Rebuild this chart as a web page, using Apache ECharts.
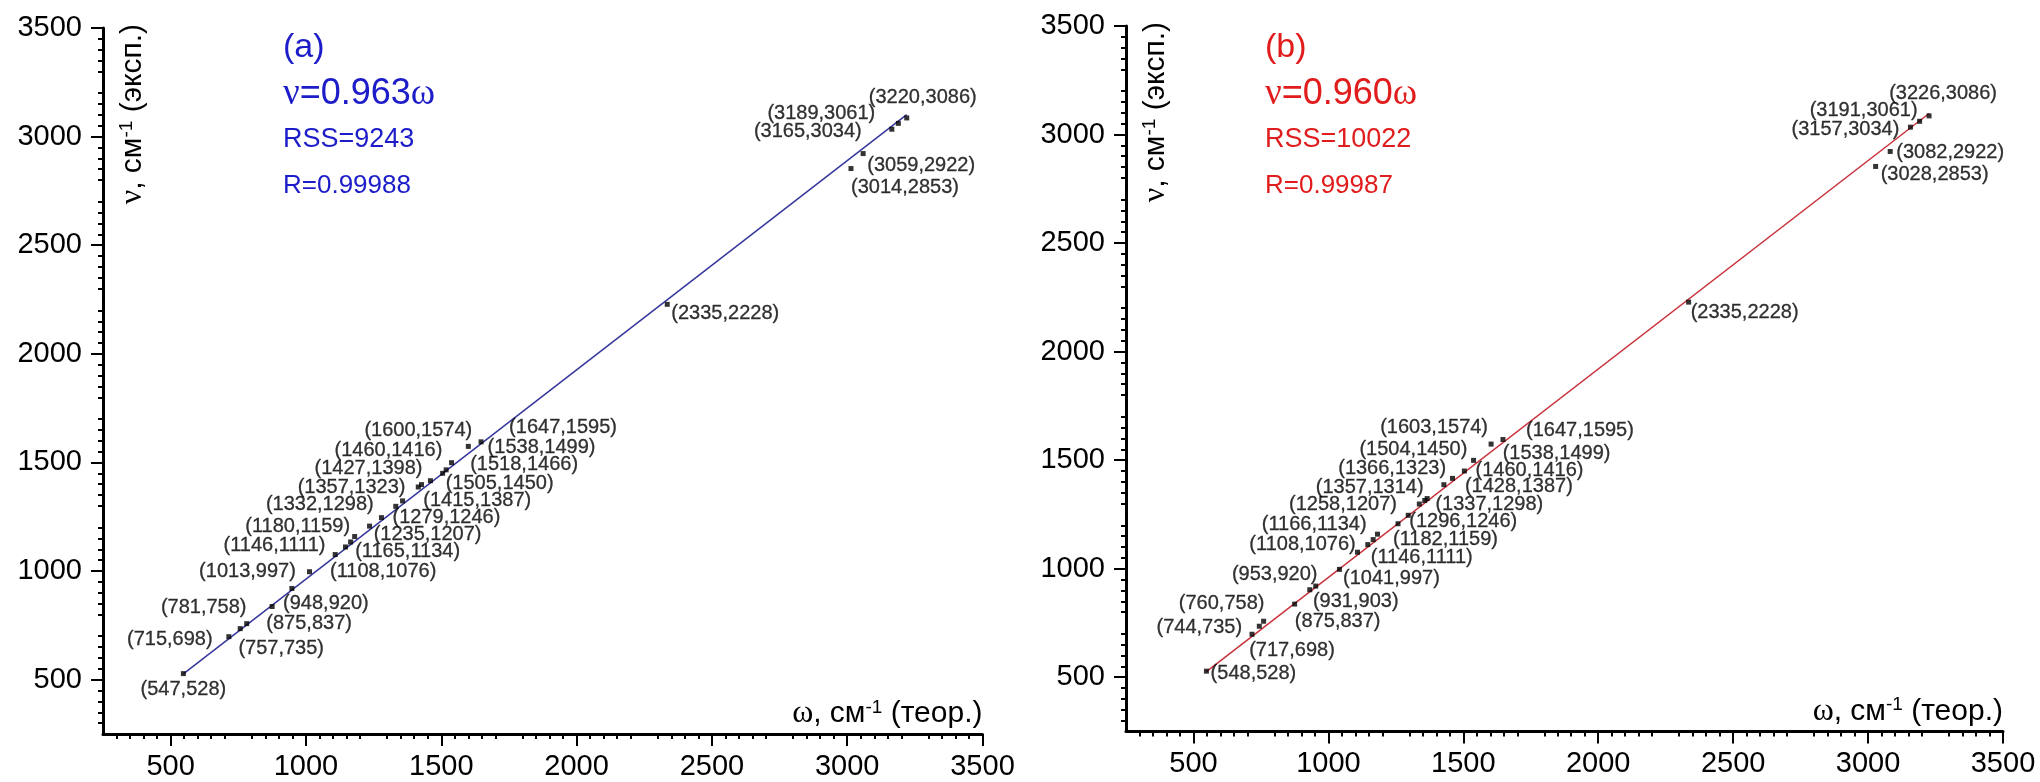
<!DOCTYPE html>
<html>
<head>
<meta charset="utf-8">
<script src="https://cdn.jsdelivr.net/npm/echarts@6/dist/echarts.min.js"></script>
<style>
html,body{margin:0;padding:0;background:#fff;}
#chart{width:2040px;height:782px;}
</style>
</head>
<body>
<div id="chart"></div>
<script>
// ---- Data ----
const omegaA = [547,715,757,781,875,948,1013,1108,1146,1165,1180,1235,1279,1332,1357,1415,1427,1460,1505,1518,1538,1600,1647,2335,3014,3059,3165,3189,3220];
const nuA    = [528,698,735,758,837,920,997,1076,1111,1134,1159,1207,1246,1298,1323,1387,1398,1416,1450,1466,1499,1574,1595,2228,2853,2922,3034,3061,3086];
const omegaB = [548,717,744,760,875,931,953,1041,1108,1146,1166,1182,1258,1296,1337,1357,1366,1428,1460,1504,1538,1603,1647,2335,3028,3082,3157,3191,3226];
const nuB    = [528,698,735,758,837,903,920,997,1076,1111,1134,1159,1207,1246,1298,1314,1323,1387,1416,1450,1499,1574,1595,2228,2853,2922,3034,3061,3086];
// fitted lines: endpoints (omega, nu)
const fitOmegaA = [547, 3220];
const fitNuA    = [527, 3101];
const fitOmegaB = [548, 3226];
const fitNuB    = [526, 3097];
// tick labels
const tickValues = [500,1000,1500,2000,2500,3000,3500];
// annotation texts
const textA = ['(a)', '0.963', 'RSS=9243', 'R=0.99988'];
const textB = ['(b)', '0.960', 'RSS=10022', 'R=0.99987'];

// ---- Layout (label offsets in px, not data) ----
const labelOffsetA = [[0,16],[-59,3],[41,20],[-43,-16],[37,17],[34,15],[-62,0],[48,17],[-71,-1],[57,10],[-57,-10],[58,8],[65,0],[-76,-2],[-51,-13],[59,13],[-53,-16],[-42,-30],[57,10],[78,-5],[90,-15],[-50,-16],[82,-14],[58,9],[54,19],[58,12],[-84,2],[-77,-10],[16,-20]];
const labelOffsetB = [[47,2],[40,16],[-60,1],[-42,-18],[43,17],[46,12],[-41,-12],[52,9],[-55,-8],[54,13],[-59,-15],[68,5],[-55,-19],[55,6],[70,0],[-55,-13],[-35,-30],[75,2],[77,-8],[-51,-22],[83,-7],[-57,-17],[77,-9],[56,10],[59,8],[60,1],[-65,2],[-56,-11],[14,-22]];

const SANS = 'Liberation Sans, Arial, sans-serif';
const SERIF = 'Liberation Serif, Times New Roman, serif';
const BLUE = '#1c1cc8';
const RED = '#e01c1c';

function axisCommon(idx, isX) {
  const o = {
    type: 'value',
    gridIndex: idx,
    min: 250, max: 3500, interval: 250,
    splitLine: {show: false},
    minorSplitLine: {show: false},
    axisLine: {show: true, onZero: false, lineStyle: {color: '#000', width: 3}},
    axisTick: {show: true, inside: false, length: 12, lineStyle: {color: '#000', width: 2}, customValues: tickValues},
    minorTick: {show: true, splitNumber: 5, length: 5, lineStyle: {color: '#000', width: 2}},
    axisLabel: {show: true, customValues: tickValues, fontFamily: SANS, fontSize: 29, color: '#000',
                margin: isX ? 18 : 21, formatter: v => String(v)},
    nameMoveOverlap: false
  };
  const rich = {
    g: {fontFamily: SERIF, fontSize: 32, color: '#000'},
    t: {fontFamily: SANS, fontSize: 30, color: '#000'},
    s: {fontFamily: SANS, fontSize: 19, color: '#000', verticalAlign: 'top'}
  };
  if (isX) {
    o.name = '{g|ω}{t|, см}{s|-1}{t| (теор.)}';
    o.nameLocation = 'end';
    o.nameGap = 0;
    o.nameTextStyle = {align: 'right', verticalAlign: 'bottom', padding: [0, 0, 4, 0], rich: rich};
  } else {
    o.name = '{g|ν}{t|, см}{s|-1}{t| (эксп.)}';
    o.nameLocation = 'end';
    o.nameGap = 4;
    o.nameRotate = 90;
    o.nameTextStyle = {align: 'right', verticalAlign: 'top', padding: [14, 0, 0, 0], rich: rich};
  }
  return o;
}

function scatterData(om, nu, offs) {
  return om.map((w, i) => ({value: [w, nu[i]], label: {offset: offs[i]}}));
}
function lineData(om, nu) {
  return om.map((w, i) => [w, nu[i]]);
}

function annotation(x, color, t) {
  return [
    {type: 'text', x: x, y: 48, style: {text: t[0], font: '34px ' + SANS, fill: color, verticalAlign: 'middle'}},
    {type: 'text', x: x, y: 94, style: {
      text: '{g|ν}{t|=' + t[1] + '}{g|ω}', verticalAlign: 'middle',
      rich: {g: {fontFamily: SERIF, fontSize: 37, fill: color}, t: {fontFamily: SANS, fontSize: 36, fill: color}}
    }},
    {type: 'text', x: x, y: 140, style: {text: t[2], font: '27px ' + SANS, fill: color, verticalAlign: 'middle'}},
    {type: 'text', x: x, y: 186, style: {text: t[3], font: '26px ' + SANS, fill: color, verticalAlign: 'middle'}}
  ];
}

const labelStyle = {
  show: true, position: 'inside', align: 'center', verticalAlign: 'middle',
  fontFamily: SANS, fontSize: 20, color: '#000', textBorderColor: '#000', textBorderWidth: 0.3,
  formatter: p => '(' + p.value[0] + ',' + p.value[1] + ')'
};

const option = {
  backgroundColor: '#fff',
  animation: false,
  grid: [
    {left: 103, top: 28, width: 879.5, height: 706, outerBoundsMode: 'none', containLabel: false},
    {left: 1126, top: 26, width: 877, height: 705.5, outerBoundsMode: 'none', containLabel: false}
  ],
  xAxis: [axisCommon(0, true), axisCommon(1, true)],
  yAxis: [axisCommon(0, false), axisCommon(1, false)],
  graphic: annotation(283, BLUE, textA).concat(annotation(1265, RED, textB)),
  series: [
    {type: 'line', xAxisIndex: 0, yAxisIndex: 0, data: lineData(fitOmegaA, fitNuA), symbol: 'none',
     lineStyle: {color: '#36369c', width: 1.5}, z: 2, silent: true},
    {type: 'line', xAxisIndex: 1, yAxisIndex: 1, data: lineData(fitOmegaB, fitNuB), symbol: 'none',
     lineStyle: {color: '#c8323c', width: 1.5}, z: 2, silent: true},
    {type: 'scatter', xAxisIndex: 0, yAxisIndex: 0, symbol: 'rect', symbolSize: 5,
     itemStyle: {color: '#000'}, data: scatterData(omegaA, nuA, labelOffsetA), label: labelStyle, z: 3},
    {type: 'scatter', xAxisIndex: 1, yAxisIndex: 1, symbol: 'rect', symbolSize: 5,
     itemStyle: {color: '#000'}, data: scatterData(omegaB, nuB, labelOffsetB), label: labelStyle, z: 3}
  ]
};

const chart = echarts.init(document.getElementById('chart'), null, {renderer: 'canvas'});
chart.setOption(option);
</script>
</body>
</html>
